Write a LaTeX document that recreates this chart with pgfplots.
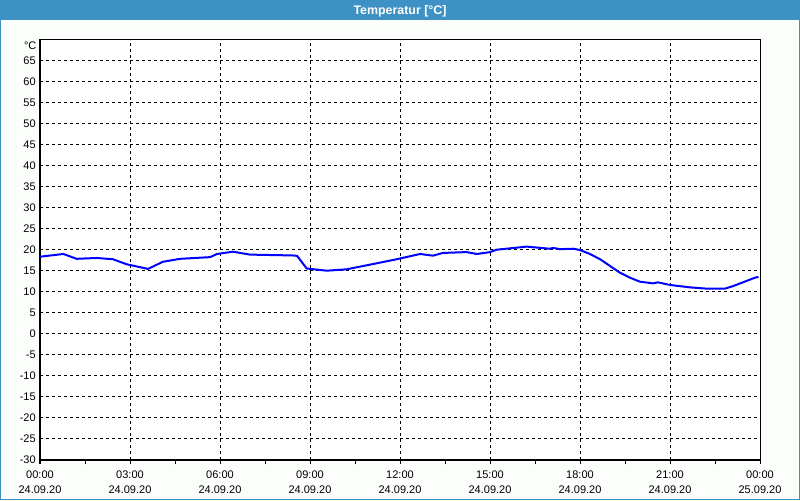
\documentclass[border=0pt]{standalone}
\usepackage{pgfplots}
\pgfplotsset{compat=1.18}
\usepackage{fontspec}
\setmainfont{Liberation Sans}
\definecolor{titlebar}{RGB}{61,145,196}
\definecolor{winbg}{RGB}{252,254,252}
\definecolor{curve}{RGB}{0,0,255}
\begin{document}
\begin{tikzpicture}
\fill[winbg] (0,0) rectangle (600pt,375pt);
\fill[titlebar] (0,360pt) rectangle (600pt,375pt);
\draw[titlebar, line width=0.75pt] (0.375pt,360pt) -- (0.375pt,0.375pt) -- (599.625pt,0.375pt) -- (599.625pt,360pt);
\node[white, anchor=base, inner sep=0pt, font=\bfseries\fontsize{9.3}{11}\selectfont] at (300pt,364.3pt) {Temperatur [°C]};
\begin{axis}[
  at={(30pt,30pt)}, anchor=south west,
  scale only axis, width=540pt, height=315pt,
  xmin=0, xmax=24, ymin=-30, ymax=70,
  axis background/.style={fill=white},
  xtick={0,3,...,24}, minor xtick={1.5,4.5,...,22.5},
  xticklabels={{00:00\\24.09.20},{03:00\\24.09.20},{06:00\\24.09.20},{09:00\\24.09.20},{12:00\\24.09.20},{15:00\\24.09.20},{18:00\\24.09.20},{21:00\\24.09.20},{00:00\\25.09.20}},
  ytick={-30,-25,...,65},
  yticklabels={-30,-25,-20,-15,-10,-5,0,5,10,15,20,25,30,35,40,45,50,55,60,65},
  tick label style={font=\fontsize{8.25}{11.5}\selectfont},
  x tick label style={align=center, inner sep=1.5pt, yshift=-3.5pt},
  y tick label style={inner xsep=0pt},
  tick pos=left, tick align=outside,
  xtick style={black, line width=0.75pt},
  ytick style={draw=none},
  major tick length=3pt, minor tick length=3pt,
  minor x tick style={black, line width=0.75pt},
  xmajorgrids, ymajorgrids,
  major grid style={black, line width=0.75pt, dash pattern=on 2.25pt off 2.25pt},
  axis line style={black, line width=0.75pt},
  clip=true,
]
\addplot[curve, line width=1.5pt] coordinates {
(0,18.4) (0.78,19.05) (1.22,17.9) (1.89,18.1) (2.43,17.8) (2.89,16.6) (3.6,15.5) (4.1,17.2) (4.67,17.9) (5.67,18.3) (5.9,19.05) (6.43,19.6) (7.0,18.9) (8.43,18.7) (8.57,18.6) (8.89,15.6) (9.56,15.07) (10.22,15.4) (10.89,16.35) (11.89,17.8) (12.67,19.05) (13.1,18.65) (13.43,19.3) (14.22,19.5) (14.56,19.05) (15.0,19.5) (15.22,20.07) (16.22,20.8) (17.0,20.3) (17.1,20.5) (17.33,20.2) (17.77,20.3) (18.0,20.0) (18.33,19.05) (18.67,17.8) (19.0,16.2) (19.33,14.6) (19.67,13.4) (20.0,12.45) (20.43,12.06) (20.6,12.3) (21.0,11.67) (21.67,11.1) (22.22,10.8) (22.83,10.8) (23.1,11.4) (23.43,12.3) (23.83,13.4) (23.95,13.6)
};
\end{axis}
\node[anchor=north east, inner sep=0pt, font=\fontsize{8.25}{10}\selectfont] at (27.5pt,343.5pt) {°C};
\pgfresetboundingbox
\path (0,0) rectangle (600pt,375pt);
\end{tikzpicture}
\end{document}
